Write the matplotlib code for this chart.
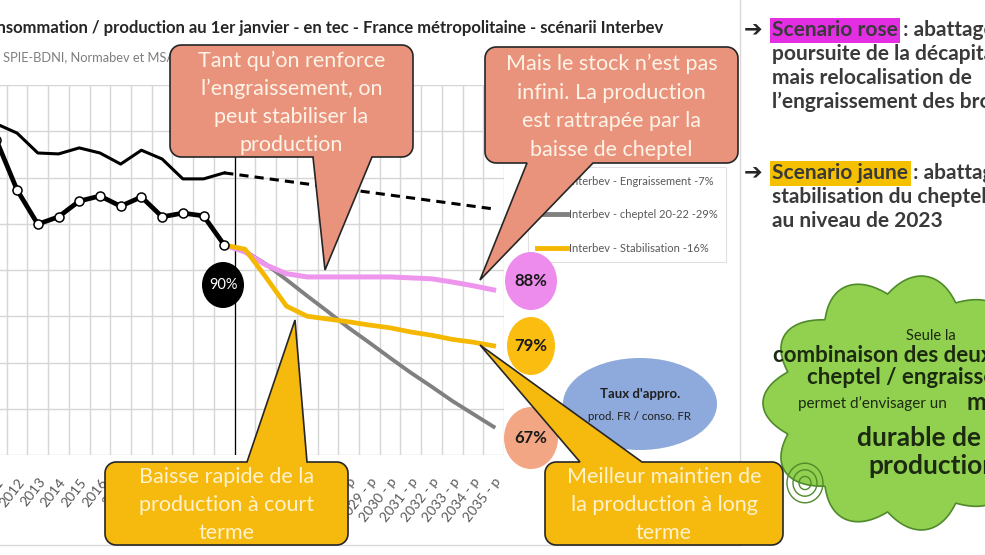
import numpy as np
import matplotlib.pyplot as plt
from matplotlib.patches import Polygon, Ellipse
from matplotlib.lines import Line2D

years = [str(y) for y in range(2011, 2023)] + [f"{y} - p" for y in range(2023, 2036)]

# kt tec, 2011-2022 (axis 1000-1800)
conso = [1716, 1696, 1653, 1651, 1664, 1653, 1629, 1659, 1640, 1597, 1597, 1610]
prod = [1681, 1573, 1499, 1515, 1549, 1560, 1538, 1558, 1515, 1523, 1517, 1454]

# projections 2022-2035
conso_proj = [1610, 1604, 1598, 1592, 1586, 1580, 1574, 1568, 1562, 1556, 1550, 1544, 1538, 1532]
engraissement = [1454, 1439, 1411, 1392, 1385, 1385, 1385, 1385, 1385, 1383, 1381, 1374, 1366, 1357]
cheptel = [1454, 1441, 1413, 1379, 1344, 1310, 1275, 1243, 1210, 1178, 1148, 1117, 1089, 1061]
stabilisation = [1454, 1445, 1385, 1322, 1300, 1294, 1288, 1281, 1275, 1266, 1259, 1250, 1244, 1236]

scen_labels = ["Interbev - Engraissement -7%", "Interbev - cheptel 20-22 -29%",
               "Interbev - Stabilisation -16%"]
scen_colors = ["#EE95EE", "#808080", "#F5B800"]
ratio_2022 = "90%"
ratios_2035 = ["88%", "79%", "67%"]
ratio_colors = ["#EE8CEE", "#FBBD10", "#F2A683"]

SANS = ["Lato", "DejaVu Sans"]
W, H = 985, 555

fig = plt.figure(figsize=(W / 100, H / 100), dpi=100)
ax = fig.add_axes([-14 / W, 100 / H, 518 / W, 370 / H])
ov = fig.add_axes([0, 0, 1, 1], zorder=5)
ov.set_xlim(0, W)
ov.set_ylim(H, 0)
ov.axis("off")

# ---- chart ----
x = np.arange(len(years))
xh = x[:len(conso)]
xp = x[len(conso) - 1:]
ax.set_xlim(-0.5, len(years) - 0.5)
ax.set_ylim(1000, 1800)
ax.set_yticks(range(1000, 1801, 100))
ax.set_xticks(x)
ax.set_xticks(np.arange(-0.5, len(years), 1), minor=True)
ax.grid(which="minor", axis="x", color="#D6D6D6", lw=1)
ax.grid(which="major", axis="y", color="#D6D6D6", lw=1)
ax.tick_params(which="both", length=0)
ax.tick_params(axis="y", labelleft=False)
ax.tick_params(axis="x", pad=15)
ax.set_xticklabels(years, rotation=52, ha="right", rotation_mode="anchor",
                   fontsize=10, color="#595959", family=SANS)
for s in ax.spines.values():
    s.set_visible(False)

ax.axvline(len(conso) - 0.5, color="black", lw=0.9, zorder=2)
ax.plot(xp, cheptel, color=scen_colors[1], lw=2.8, zorder=3)
ax.plot(xp, engraissement, color=scen_colors[0], lw=3.6, zorder=3)
ax.plot(xp, stabilisation, color=scen_colors[2], lw=3.4, zorder=3)
ax.plot(xh, conso, color="black", lw=2.2, zorder=4)
ax.plot(xp, conso_proj, color="black", lw=2.2, ls=(0, (3, 2)), zorder=4)
ax.plot(xh, prod, color="black", lw=3.4, marker="o", ms=6.5, mfc="white",
        mec="black", mew=1.1, zorder=5)

handles = [Line2D([], [], color=c, lw=3.5) for c in scen_colors]
leg = ax.legend(handles, scen_labels, loc="lower right",
                bbox_to_anchor=(732 / W, 1 - 268 / H), bbox_transform=fig.transFigure,
                fancybox=False, edgecolor="#D9D9D9", labelcolor="#595959",
                handlelength=2.7, labelspacing=2.0, borderpad=0.8, handletextpad=0.2,
                prop={"family": SANS, "size": 8})
leg.get_frame().set_linewidth(0.8)

# ---- frame lines and titles ----
ov.plot([0, 740], [545, 545], color="#D9D9D9", lw=1, zorder=0)
ov.plot([740, 740], [0, 545], color="#D9D9D9", lw=1, zorder=0)
ov.text(663, 28, "Consommation / production au 1er janvier - en tec - France métropolitaine - scénarii Interbev",
        ha="right", va="center", fontsize=12, fontweight="bold", color="#262626",
        family=SANS, zorder=1)
ov.text(3, 57, "SPIE-BDNI, Normabev et MSA", ha="left", va="center", fontsize=9.3,
        color="#7F7F7F", family=SANS, zorder=1)

# ---- ratio bubbles ----
ov.add_patch(Ellipse((223, 285), 42, 46, fc="black", ec="none", zorder=3))
ov.text(223, 285, ratio_2022, ha="center", va="center", color="white", fontsize=10.5,
        family=SANS, zorder=4)
for (cy, w, h), lab, col in zip([(281, 52, 58), (346, 48, 58), (438, 54, 62)],
                                ratios_2035, ratio_colors):
    ov.add_patch(Ellipse((531, cy), w, h, fc=col, ec="none", zorder=3))
    ov.text(531, cy, lab, ha="center", va="center", fontsize=12, fontweight="bold",
            color="#1A1A1A", family=SANS, zorder=4)
ov.add_patch(Ellipse((640, 404), 154, 92, fc="#8EA9DB", ec="none", zorder=3))
ov.text(640, 394, "Taux d'appro.", ha="center", va="center", fontsize=9.5,
        fontweight="bold", color="#1F1F1F", family=SANS, zorder=4)
ov.text(640, 416, "prod. FR / conso. FR", ha="center", va="center", fontsize=8.3,
        color="#1F1F1F", family=SANS, zorder=4)


def callout(x0, y0, x1, y1, base, tip, side, fc, lines, tc, ys, r=11):
    def arc(cx, cy, a0, a1):
        t = np.radians(np.linspace(a0, a1, 8))
        return list(zip(cx + r * np.cos(t), cy + r * np.sin(t)))
    pts = arc(x0 + r, y0 + r, 180, 270)
    if side == "top":
        pts += [(base[0], y0), tip, (base[1], y0)]
    pts += arc(x1 - r, y0 + r, 270, 360)
    pts += arc(x1 - r, y1 - r, 0, 90)
    if side == "bottom":
        pts += [(base[1], y1), tip, (base[0], y1)]
    pts += arc(x0 + r, y1 - r, 90, 180)
    ov.add_patch(Polygon(pts, closed=True, fc=fc, ec="#262626", lw=1.2, zorder=6))
    cx = (x0 + x1) / 2
    for line, y in zip(lines, ys):
        ov.text(cx, y, line, ha="center", va="center", fontsize=15.5, color=tc,
                family=SANS, zorder=7)


salmon, gold = "#E9937D", "#F6B90E"
callout(170, 45, 413, 157, (313, 372), (325, 270), "bottom", salmon,
        ["Tant qu\u2019on renforce", "l\u2019engraissement, on", "peut stabiliser la", "production"],
        "#FDF3E7", [61, 89, 117, 145])
callout(485, 47, 738, 163, (527, 593), (480, 280), "bottom", salmon,
        ["Mais le stock n\u2019est pas", "infini. La production", "est rattrapée par la",
         "baisse de cheptel"], "#FDF3E7", [64, 93, 121, 150])
callout(105, 462, 348, 545, (247, 307), (295, 320), "top", gold,
        ["Baisse rapide de la", "production à court", "terme"], "#FFF2CC", [477, 505, 533])
callout(545, 462, 783, 545, (580, 642), (480, 345), "top", gold,
        ["Meilleur maintien de", "la production à long", "terme"], "#FFF2CC", [477, 505, 533])

# ---- right panel ----
txt = dict(fontsize=15, color="#3A3A3A", family=SANS, fontweight="bold", zorder=2)
for y, head, hcol, rest, more in [
        (30, "Scenario rose", "#E32EE3", " : abattages", ["poursuite de la décapitalisation",
                                                         "mais relocalisation de",
                                                         "l\u2019engraissement des broutards"]),
        (173, "Scenario jaune", "#F5C000", " : abattages", ["stabilisation du cheptel",
                                                           "au niveau de 2023"])]:
    ov.text(744, y, "\u2794", ha="left", va="center", fontsize=16, color="#262626",
            family="DejaVu Sans", fontweight="bold", zorder=2)
    t = ov.text(772, y, head, ha="left", va="center",
                bbox=dict(boxstyle="square,pad=0.12", fc=hcol, ec="none"), **txt)
    ov.annotate(rest, xy=(1, 0), xycoords=t, ha="left", va="bottom", **txt)
    for i, line in enumerate(more):
        ov.text(772, y + 24 * (i + 1), line, ha="left", va="center", **txt)

# cloud
t = np.linspace(0, 2 * np.pi, 800)
k = 0.86 + 0.14 * np.abs(np.sin(5.5 * t))
cloud = np.column_stack([905 + 142 * k * np.cos(t), 403 + 128 * k * np.sin(t)])
ov.add_patch(Polygon(cloud, closed=True, fc="#92D050", ec="#4F8A2B", lw=1.2, zorder=1))
for r in (6, 12, 18):
    ov.add_patch(Ellipse((805, 483), 2 * r, 2.2 * r, fc="none", ec="#4F8A2B", lw=1, zorder=2))
ctx = dict(color="#1B2A10", family=SANS, zorder=2, va="center")
ov.text(931, 336, "Seule la", ha="center", fontsize=10.5, **ctx)
ov.text(773, 356, "combinaison des deux leviers", ha="left", fontsize=16, fontweight="bold", **ctx)
ov.text(807, 378, "cheptel / engraissement", ha="left", fontsize=16, fontweight="bold", **ctx)
ov.text(798, 404, "permet d\u2019envisager un", ha="left", fontsize=11, **ctx)
ov.text(966, 402, "maintien", ha="left", fontsize=17, fontweight="bold", **ctx)
ov.text(857, 438, "durable de la", ha="left", fontsize=19, fontweight="bold", **ctx)
ov.text(868, 466, "production", ha="left", fontsize=19, fontweight="bold", **ctx)

fig.savefig("out.png", dpi=100)
